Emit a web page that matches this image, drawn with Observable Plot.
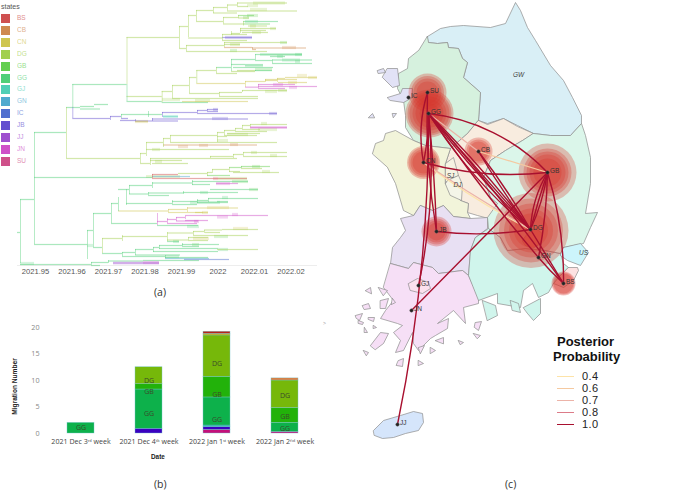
<!DOCTYPE html>
<html>
<head>
<meta charset="utf-8">
<script src="https://cdn.jsdelivr.net/npm/d3@7"></script>
<script src="https://cdn.jsdelivr.net/npm/@observablehq/plot@0.6"></script>
<style>
html,body{margin:0;padding:0;background:#fff;}
#page{position:relative;width:685px;height:490px;overflow:hidden;font-family:"Liberation Sans",sans-serif;}
#page svg{position:absolute;background:transparent;}
.t{position:absolute;white-space:nowrap;}
</style>
</head>
<body>
<div id="page"></div>
<script>
// ---------- panel (a): time tree ----------
const stateNames = ["BS","CB","CN","DG","GB","GG","GJ","GN","IC","JB","JJ","JN","SU"];
const stateColors = ["#cf5050","#cf8a50","#cfc650","#a2cf50","#63cf50","#50cf78","#50cfb6","#50aacf","#5070cf","#6350cf","#9f50cf","#cf50c8","#cf508a"];
const treeTicks = [2021.95,2021.96,2021.97,2021.98,2021.99,2022,2022.01,2022.02];
const treeOriginYear = 2021.9404;   // branch times below are days after this
// horizontal branches: state, start day, end day, row
const treeBranches = [
["GG",2,3.4,199],["GG",1.7,2,232],["GG",3.4,6.6,132],["GG",6.6,8,107],["GG",8,9.4,106],["GG",9.4,10.8,104],["GG",8,10,108.5],
["GG",7.23,12.65,84],["DG",12.65,17.9,37],["DG",17.9,18.8,26],["DG",18.8,19.6,15],["DG",19.6,21.3,10],["DG",21.3,22.7,7],["DG",22.7,23.7,4.5],["DG",23.7,28.7,2.5],["DG",23.7,24.8,6],["DG",22.7,29.7,10.5],["DG",21.3,23.7,12.5],
["DG",19.6,22.3,21],["DG",22.3,23.8,17],["GB",23.8,25.4,15],["DG",23.8,24.9,17.5],["DG",22.3,24.3,23.5],["GG",24.3,27.8,21],["GB",24.3,27,23.5],["DG",24.8,26.7,25.5],
["DG",18.8,22.2,37.5],["DG",22.2,23.1,34],["DG",23.1,24,33],["DG",24,27.6,28],["DG",24,26.6,30],["DG",24.2,26.8,32],["DG",23.1,24.7,34],["JB",22.2,25.2,37],["DG",22.2,24.7,40],
["DG",17.9,18.6,48],["DG",18.6,22.4,45],["DG",22.4,24,44],["DG",22.4,28.7,42],["CB",22.4,25.2,47],["CB",25.2,30.6,47.5],["CB",25.2,25.6,49],["DG",18.6,26.7,51],
["GG",12.65,16.17,101],["DG",12.65,16.17,96],["GG",16.17,20.8,102],["CN",18.2,24.8,101],["DG",16.17,17.2,91],["DG",17.2,18.9,85],["DG",18.9,19.63,77],
["DG",19.63,21.6,70],["GG",21.6,23.1,67],["GG",23.1,25.5,59],["GG",25.5,27,54],["GG",27,30.2,54],["GG",27,28.5,56],["GG",25.5,27.2,60],["GG",27.2,31.2,59.5],["GG",27.2,31.2,63],["GG",23.1,24.5,64],["GG",24.5,26.3,64.5],["GG",23.3,27.3,67],["DG",23.1,25.5,71],["GG",25.5,27.2,70],["DG",21.6,23.7,73],["DG",23.7,25.5,70],
["CN",19.63,24.5,83],["CN",24.5,26.5,81],["CN",26.5,27.7,80],["CN",27.7,28.5,78],["CN",28.5,31.7,77],["CN",26.5,29.7,79],["CN",27.8,30.7,82],
["JN",24.5,25.8,86.7],["JN",25.8,26.2,84],["JN",26.2,29.5,84],["JN",25.8,31.7,86],["JN",25.8,28.5,88],
["DG",18.9,21.9,93],["DG",21.9,24.2,92],["DG",24.2,28.7,90],["DG",21.9,25.8,96],["DG",17.2,25.8,98],
["JB",7.23,11,118],["JB",11,12.1,116],["GG",12.1,14.8,114],["JB",12.1,12.8,118],["GG",14.8,16.2,114],["JB",16.2,19.7,112],["JB",19.7,20.7,110],["JB",20.7,21.8,109],["JB",20.7,21.8,111],["JB",19.7,27.7,113],["GJ",16.3,17.8,116],
["JB",12,13.5,120],["JB",15.2,24.8,118.5],["JB",13.5,17.8,120.5],["CN",13.5,14.8,121],
["DG",6.6,14,158],["DG",14,14.6,153],["DG",14.6,16.3,142],["DG",16.3,17,138],["DG",17,21.7,135],["DG",21.7,22.4,132],["DG",22.4,23.5,130],["DG",23.5,24.2,128],["DG",24.2,25,125],["DG",25,28.7,124],["JN",25,28.7,127],["DG",24.2,26,129],["DG",23.5,26.7,131],["DG",22.7,26,133],["DG",22.4,25.7,135],["DG",21.7,22.7,136],["DG",17,19.4,142],["DG",19.4,21.7,142],["DG",21.7,27.7,142],
["CB",16.3,25.7,144.5],["DG",14.6,22.9,149],["DG",14,15,163],["DG",15,21,158],["DG",15,18.2,160],["DG",15.2,18.8,163],["DG",21,23.3,156],["DG",21,23.7,158],["DG",23.3,24.3,154],["DG",24.3,28.7,152],["DG",24.3,28.7,156],
["GG",3.4,15.2,177],["BS",15.2,17.8,174],["GN",15.2,19,176],["BS",15.2,24.7,178],["DG",17.8,20.7,173],["DG",20.7,21.2,172],["DG",21.2,22.9,169],["GB",22.9,24.1,167],["GB",24.1,27,166],["DG",24.1,26.2,168],["DG",22.9,24,171],["DG",23.3,27.9,172],["GB",20.7,23,175],
["GG",8.7,9.3,230],["GG",9.3,11.1,213],["GG",11.1,11.8,203],["GG",11.8,12.9,189],["GG",12.9,15.2,185],["GG",15.2,19.2,182.5],["GG",19.2,20.3,181],["GG",20.3,24.8,181],["GG",19.2,21,184],["JN",21.6,23.8,183],["GG",21,25.8,189],
["GG",12.9,14.8,193.5],["GG",14.8,18.3,192.5],["GG",18.3,23.8,192],["GG",14.8,16.9,195],
["GG",12.6,17.2,203],["GG",17.2,19.7,201],["GG",19.7,20.8,200],["GG",20.8,22,198],["GG",22,25.8,198],["GG",21.7,22.8,201],["GG",19.7,22.8,202],["GG",17.2,19.7,204],
["CN",11.8,16.8,210.5],["CN",16.8,18.7,209],["CN",18.7,23.8,207.5],["CN",19.5,20.3,212],["CN",16.8,20.8,212],
["GG",11.1,15.7,223],["JN",15.7,16.7,221],["JN",16.7,17.6,219],["JN",17.6,18.5,217],["JN",18.5,26.8,215],["JN",18.5,20.8,220],["JN",17.6,19.8,220.5],["JN",16.7,19.7,223],["GG",15.7,19.8,225],
["GG",3.4,8.7,244],["GG",9.3,10.2,247],["DG",10.2,12.2,238],["DG",12.2,16.7,236],["DG",16.7,19.3,232.5],["DG",19.3,20.4,231],["DG",20.4,22.2,229.5],["DG",22.2,25.8,229],["DG",20.5,22,232],["DG",19.3,24.8,235],["DG",16.7,18.8,239.5],["DG",18.8,20.8,237],["DG",18.8,20.8,240],["GG",16.7,17.9,241],
["GG",10.2,12.2,253],["GG",12.2,13.5,252],["GG",13.5,15.3,249],["GG",15.3,15.9,247],["GG",15.9,18.2,245],["GG",18.2,21.9,244],["GG",18.2,19.9,246],["GG",15.9,21.8,248],["DG",21.7,25.8,249],["GG",15.3,21.8,251],["GG",13.5,18,254.5],["GG",12.2,16.5,256],["GG",16.5,20.8,257],["GN",16.5,20.9,258],
["GG",2,9.1,264],["GG",9.1,10.8,262],["GG",10.8,14.3,260.5],["GG",14.3,19.9,260],["IC",18.4,22.9,259],["JJ",11.3,15.9,262.5],["GG",9.1,10,265]
];
// vertical connectors: state, day, row from, row to
const treeConnectors = [
["GG",2,199,263],["GG",3.4,132,244],["DG",6.6,107,158],["GG",7.23,84,107],["JB",7.23,107,118],["GG",12.65,84,101],["DG",12.65,37,84],["DG",17.9,26,48],["DG",18.8,15,37],["DG",19.6,10,21],["DG",21.3,7,13],["DG",22.7,4.5,10.5],["DG",23.7,2.5,6],["DG",22.3,17,23.5],["DG",23.8,15,18],["DG",24.3,21,25.5],["DG",22.2,34,40],["DG",23.1,31,35],["DG",24,28,33],["DG",18.6,45,51],["DG",22.4,42,47],["CB",25.2,47,49],
["DG",16.17,91,102],["DG",17.2,85,98],["DG",18.9,77,93],["DG",19.63,70,83],["DG",21.6,67,73],["GG",23.1,59,71],["GG",25.5,54,60],["GG",27.2,59.5,63],["GG",25.5,70,71],["CN",24.5,81,87],["CN",26.5,79,82],["CN",27.7,78,82],["JN",25.8,84,88],["DG",21.9,92,96],["DG",24.2,90,92],
["JB",11,116,120],["GG",12.1,114,118],["GG",14.8,111,117],["JB",16.2,112,117],["JB",19.7,110,113],["JB",20.7,109,111],["JB",13.5,119,121],["JB",15.2,118,121],
["DG",14,153,163],["DG",14.6,142,156],["DG",16.3,138,147],["DG",17,135,142],["DG",21.7,132,142],["DG",22.4,130,135],["DG",23.5,128,131],["DG",24.2,125,129],["DG",25,124,127],["DG",15,158,165],["DG",21,156,158],["DG",23.3,154,158],["DG",24.3,152,156],
["BS",15.2,174,178],["DG",20.7,172,176],["DG",21.2,169,173],["DG",22.9,167,172],["GB",24.1,166,168],
["GG",8.7,230,259],["GG",9.3,213,247],["GG",11.1,203,223],["GG",11.8,197,211],["GG",12.6,189,205],["GG",12.9,185,194],["GG",15.2,182,188],["GG",19.2,180,185],["GG",14.8,192,195],["GG",18.3,191,194],["GG",17.2,200,204],["GG",19.7,199,203],["GG",20.8,198,202],["CN",16.8,209,212],["CN",18.7,207,212],
["JN",15.7,213,225],["JN",16.7,218,223],["JN",17.6,217,221],["JN",18.5,216,219],
["DG",10.2,238,253],["DG",12.2,235,241],["DG",16.7,232,241],["DG",19.3,231,235],["DG",20.4,230,233],["DG",18.8,237,240],["GG",12.2,252,256],["GG",13.5,249,255],["GG",15.3,247,252],["GG",15.9,245,249],["GG",18.2,243,246],["GG",16.5,255,258],["GG",9.1,262,265],["GG",10.8,260,263]
];
// pale uncertainty bands: state, start day, end day, row
const treeBands = [
["GG",2,3.4,263],["DG",25.3,28.5,2.5],["DG",25,26.7,9],["DG",24.7,25.8,5],["GB",24.7,25.8,15],["GB",24.3,24.9,17],["GG",24.5,25.8,21],["DG",25,25.6,25.5],["DG",27,27.6,28],["DG",25.2,26.1,32],["JB",22.5,25.2,37],["DG",23,24,44],["GB",28,28.7,42],["CB",28.2,29.6,47],["GB",23,23.7,50],
["GG",26,30.2,54],["GG",29.5,30.2,54],["GG",27.7,28.3,56],["GG",28.2,30,59.5],["GG",29.5,30,61],["GG",24.5,26.3,65],["GB",25.5,27.2,69],["CN",29.7,30.7,75],["CN",30.8,31.7,77],["CN",28.8,29.7,82],["JN",28.9,29.7,87],["JN",27.3,28.3,84],["DG",26.5,27.7,91],["DG",27.8,28.7,90],
["DG",16.2,18,99],["DG",19.5,21,100],["JB",21.3,21.8,109],["GJ",16.3,17.8,116],["JB",26.9,27.7,113],["JB",21.2,22.8,118],["CN",13.5,14.8,121],
["DG",26.1,26.7,123],["DG",25.8,27.7,129],["JN",25,28.7,127],["DG",22.7,24.8,134],["DG",21.7,22.8,140],["CB",17.8,18.8,146],["CB",19.9,20.8,145],["CB",23,23.8,144],["DG",15.2,16,149],["DG",15.5,16.2,161],["DG",25.1,25.7,152],["DG",27,27.7,155],
["GB",25.2,26,166],["DG",26.2,27,171],["DG",14.6,18,176],["BS",21.3,21.8,178],["DG",21.8,24.7,178],
["GB",23.2,24.8,181],["JN",21.6,23,183],["GB",24.9,25.8,189],["GG",20,20.8,192],["GG",22.2,22.8,197],["GG",19,22,202],["CN",20.7,22.9,207],["CN",20.2,20.8,212],["JN",21.7,22.8,216.5],["JN",23.2,23.8,214],["JN",19.4,19.9,221],["GG",18.7,19.9,226],
["CN",23.3,24.8,228],["GB",21.4,22.8,236],["CN",19.3,20.9,238],["GG",17.3,17.9,241],["GB",19.2,19.9,244],["GG",21.8,22.8,249],["GG",16.5,17.9,256],["JJ",11.3,15.9,262.5],["JN",14.3,15.9,262],["GG",8.7,9.3,245]
];

// ---------- panel (b): migration bars ----------
const weeks = ["2021 Dec 3ʳᵈ week","2021 Dec 4ᵗʰ week","2022 Jan 1ˢᵗ week","2022 Jan 2ⁿᵈ week"];
const barWeek = [0,1,1,1,1,2,2,2,2,2,2,2,2,3,3,3,3,3];
const barState = ["GG","JB","GG","GB","DG","JN","JB","GJ","GG","GB","DG","CN","BS","JN","GG","GB","DG","CB"];
const barValue = [2,0.9,7.4,1,3.2,0.7,0.5,0.3,5.3,3.9,7.8,0.3,0.4,0.3,1.7,2.8,5.2,0.4];
const barFills = {GG:"#0db14b",JB:"#3a00c0",GB:"#22b20a",DG:"#76b80a",CN:"#cfa800",JN:"#c4107a",GJ:"#1aa9a0",BS:"#b8241a",CB:"#e07a3a"};
const barLabelled = ["GG","GB","DG"];

// ---------- panel (c): map ----------
const gwRegion = [[427,36],[440,28],[450,26],[463,25],[490,27],[505,23],[515,2],[520,10],[527,27],[535,40],[550,65],[563,80],[572,97],[581,115],[581,123],[570,135],[550,135],[533,133],[517,125],[503,118],[487,123],[478,120],[480,92],[463,77],[467,62],[462,58],[458,48],[448,47],[447,42],[437,43],[428,42]];
const ggRegion = [[427,36],[428,42],[437,43],[447,42],[448,47],[458,48],[462,58],[467,62],[463,77],[480,92],[478,120],[467,133],[450,148],[425,145],[413,140],[405,127],[405,115],[403,100],[397,88],[398,73],[407,68],[408,58],[418,50]];
const cbRegion = [[478,120],[487,124],[503,118],[517,126],[533,133],[522,140],[505,150],[490,160],[483,177],[490,197],[497,203],[488,218],[477,215],[467,212],[468,203],[460,200],[445,183],[445,163],[450,148],[467,133]];
const cnRegion = [[372,153],[375,143],[383,140],[385,133],[395,130],[413,140],[425,145],[450,148],[445,163],[445,183],[460,200],[468,203],[467,212],[470,218],[453,216],[443,205],[432,210],[420,205],[413,215],[403,210],[395,183],[387,167]];
const jbRegion = [[420,205],[432,210],[443,205],[453,216],[470,218],[487,217],[487,228],[475,237],[470,250],[468,275],[462,270],[438,273],[432,267],[413,262],[408,268],[390,263],[392,247],[400,237],[405,230],[400,218],[413,215]];
const jnRegion = [[390,263],[408,268],[413,262],[432,267],[438,273],[462,270],[468,275],[478,297],[478,303],[463,307],[465,323],[453,310],[437,323],[448,318],[447,328],[435,335],[430,338],[418,350],[413,343],[412,332],[403,350],[395,352],[400,340],[393,332],[402,325],[397,323],[380,318],[385,310],[393,300],[383,287]];
const gbRegion = [[533,133],[550,135],[570,135],[581,123],[585,135],[590,157],[590,183],[585,213],[597,212],[590,227],[583,243],[563,247],[560,253],[545,250],[525,248],[507,250],[500,237],[488,228],[487,217],[497,203],[490,197],[483,177],[490,160],[505,150],[522,140]];
const gnRegion = [[475,237],[488,228],[500,237],[507,250],[525,248],[545,250],[560,253],[563,263],[568,267],[560,275],[553,283],[548,292],[538,297],[532,283],[523,290],[520,307],[497,303],[497,293],[478,300],[468,275],[470,250]];
const usRegion = [[563,247],[580,243],[588,252],[580,265],[567,260],[560,255]];
const bsRegion = [[568,267],[577,267],[578,270],[573,280],[563,287],[553,283],[560,275]];
const sjRegion = [[445,163],[453,157],[458,175],[447,180],[445,183]];
const djRegion = [[445,183],[447,180],[458,175],[462,184],[461,200],[450,195]];
const dgRegion = [[522,240],[527,233],[535,228],[542,233],[540,243],[532,248],[525,245]];
const gjRegion = [[408,283],[417,278],[428,282],[430,288],[422,293],[410,290]];
const jjRegion = [[373,430],[383,420],[400,415],[413,411],[422,413],[423,422],[418,430],[405,433],[393,437],[382,438],[374,435]];
const icIslands = [[[387,68],[397,68],[399,85],[392,87],[382,77]],[[387,97],[400,93],[402,88],[412,88],[412,97],[403,102],[390,100]],[[377,70],[383,68],[385,72],[378,73]],[[368,117],[372,113],[374,117]],[[392,113],[396,113],[393,117]]];
const gnIslands = [[[523,307],[540,298],[540,313],[533,320],[527,313]],[[482,300],[495,305],[497,315],[487,320]],[[510,300],[518,303],[520,312],[512,310]]];
const jnIslands = [[[362,305],[368,303],[370,308],[364,309]],[[368,317],[374,317],[373,321],[368,319]],[[355,315],[362,313],[359,320],[356,318]],[[358,320],[363,322],[362,324],[358,323]],[[380,300],[388,298],[385,308],[380,308]],[[370,345],[380,332],[388,333],[383,343],[375,349]],[[398,360],[403,358],[402,366],[396,365]],[[435,340],[443,337],[443,343]],[[458,340],[463,342],[460,344]],[[473,333],[480,335],[477,338]],[[475,322],[481,321],[478,330],[474,327]],[[418,347],[424,345],[420,353]],[[430,347],[435,350],[430,353]],[[363,350],[368,352],[366,355]],[[418,360],[423,363],[418,365]],[[364,327],[367,332],[364,332]],[[373,325],[376,327],[373,328]],[[365,290],[370,287],[371,293]],[[378,287],[387,290],[383,295]],[[392,298],[395,302],[391,304]]];
const mapFills = {gw:"#d9eff6",gg:"#d6f1de",cb:"#f8ecdf",cn:"#f2f4da",jb:"#e8e0f3",jn:"#f6dff6",gb:"#dbf6ea",gn:"#d0f5ec",us:"#ccf5fb",bs:"#fde2e2",sj:"#f6f3e2",dj:"#f4f5e8",dg:"#e9b9ae",gj:"#fbe0ee",jj:"#d5e5fb",ic:"#e2e2f6"};
const places = {SU:[427,92],GG:[428,113],IC:[408,97],CB:[478,151],CN:[423,162],GB:[547,172],DG:[530,229],GN:[538,257],BS:[563,283],JB:[436,231],GJ:[418,285],JN:[411,310],JJ:[397,424]};
const placeOnly = {GW:[518,74],SJ:[450,175],DJ:[457,184],US:[583,252]};
// halo rings: place, radius
const halos = [["SU",19],["SU",16.5],["SU",14],["SU",11],["GG",24],["GG",22],["GG",20],["GG",17],["GG",14],["GG",10],["CB",14],["CB",12],["CB",10],["CN",16.5],["CN",15],["CN",13],["CN",11],["JB",15],["JB",13],["JB",11],["JB",9],["GB",29],["GB",24],["GB",21],["GB",18],["GB",14],["DG",37.5],["DG",32],["DG",27],["DG",22],["DG",17],["BS",12],["BS",11],["BS",10]];
const haloCentre = {GG:[429,113],DG:[530.5,230]};
const probLevels = [0.4,0.6,0.7,0.8,1.0];
const probColors = ["#fde3a8","#f5c9a0","#ecb3a8","#dc7b88","#a8102f"];
// flows: from, to, bend (degrees), posterior probability
const flows = [
["CN","DG",-5,0.4],["CB","GB",0,0.6],["GG","CB",0,0.7],["CN","DG",-2,0.7],
["GG","DG",0,1],["GG","DG",4,1],["GG","DG",-4,1],["GG","DG",-9,1],["GG","GN",-3,1],["GG","BS",3,1],["GG","GB",20,1],["GG","CN",6,1],["GG","JB",2,1],["GG","GJ",9,1],["GG","JJ",6,1],
["SU","CN",-14,1],["SU","JB",-6,1],
["CN","GB",-11,1],["CB","DG",-3,1],["CB","DG",4,1],["GB","DG",8,1],["GB","DG",-2,1],["GB","DG",-14,1],["GB","BS",9,1],["GB","JN",0,1],["GB","GN",5,1],
["JB","DG",-8,1],["DG","BS",0,1],["GN","BS",-4,1]
];

// ---------- helpers ----------
const page = document.getElementById("page");
const treeYear = d => treeOriginYear + d / 365;
const stateScale = {domain: stateNames, range: stateColors};
function place(svg, left, top) { svg.style.left = left + "px"; svg.style.top = top + "px"; page.appendChild(svg); }
function text(str, left, top, style) {
  const e = document.createElement("div"); e.className = "t"; e.textContent = str;
  e.style.cssText = `left:${left}px;top:${top}px;${style||""}`; page.appendChild(e); return e;
}

// ---------- draw (a) ----------
place(Plot.plot({
  width: 330, height: 300, marginTop: 0, marginLeft: 0, marginRight: 0, marginBottom: 35,
  style: {background: "transparent", fontFamily: "Liberation Sans"},
  x: {domain: [treeYear(0), treeYear(33)], ticks: treeTicks, label: null, tickSize: 0, tickPadding: 3,
      tickFormat: d => String(+d.toFixed(2))},
  y: {domain: [265, 0], axis: null},
  color: {...stateScale},
  marks: [
    Plot.ruleY([265], {x1: treeYear(1.7), x2: treeYear(31.7), stroke: "#e8e8e8", strokeWidth: 0.8}),
    Plot.ruleY(treeBands, {x1: d => treeYear(d[1]), x2: d => treeYear(d[2]), y: d => d[3], stroke: d => d[0], strokeWidth: 3.2, strokeOpacity: 0.24}),
    Plot.ruleY(treeBranches, {x1: d => treeYear(d[1]), x2: d => treeYear(d[2]), y: d => d[3], stroke: d => d[0], strokeWidth: 2.2, strokeOpacity: 0.1}),
    Plot.ruleY(treeBranches, {x1: d => treeYear(d[1]), x2: d => treeYear(d[2]), y: d => d[3], stroke: d => d[0], strokeWidth: 0.9, strokeOpacity: 0.47}),
    Plot.ruleX(treeConnectors, {x: d => treeYear(d[1]), y1: d => d[2], y2: d => d[3], stroke: d => d[0], strokeWidth: 0.9, strokeOpacity: 0.47})
  ]
}), 0, 0);
page.querySelector("svg").querySelectorAll("[aria-label='x-axis tick label'] text").forEach(t => { t.setAttribute("font-size", 7.6); t.setAttribute("fill", "#555"); });

text("states", 1, 3, "font-size:7px;color:#555;");
stateNames.forEach((s, i) => {
  const top = 14 + i * 11.9;
  text("", 1, top, `width:7px;height:7px;background:${stateColors[i]};border:0.5px solid ${stateColors[i]}88;`);
  text(s, 17, top, `font-size:6.5px;line-height:8px;color:${stateColors[i]};opacity:.65;`);
});
text("(a)", 154, 285, "font-size:10.5px;font-family:'Open Sans';color:#333;");

// ---------- draw (b) ----------
const bars = barValue.map((value, i) => ({week: weeks[barWeek[i]], state: barState[i], value}));
place(Plot.plot({
  width: 330, height: 150, marginTop: 7, marginBottom: 37, marginLeft: 42, marginRight: 11,
  style: {background: "transparent", fontFamily: "Open Sans"},
  x: {domain: weeks, range: [45.25, 319.25], paddingInner: 0.6, paddingOuter: 0.3, label: null, tickSize: 0, tickPadding: 5},
  y: {domain: [0, 20], ticks: [0, 5, 10, 15, 20], label: null, tickSize: 0, tickPadding: 3},
  marks: [
    Plot.barY(bars, {x: "week", y: "value", fill: d => barFills[d.state], stroke: "#74c4cc", strokeWidth: 0.5, strokeOpacity: 0.8}),
    Plot.text(bars.filter(d => barLabelled.includes(d.state)), Plot.stackY({x: "week", y: "value", text: "state", fill: "#3a4a2a", fontSize: 7})),
  ]
}), 0, 320);
const bSvg = page.querySelectorAll("svg")[1];
bSvg.querySelectorAll("[aria-label='y-axis tick label'] text").forEach(t => { t.setAttribute("font-size", 7.2); t.setAttribute("fill", "#888"); });
bSvg.querySelectorAll("[aria-label='x-axis tick label'] text").forEach(t => { t.setAttribute("font-size", 7.1); t.setAttribute("fill", "#444"); });
text("Date", 151, 453, "font-size:6.4px;font-weight:bold;color:#222;");
text("Migration Number", -15, 383, "font-size:6.6px;font-weight:bold;color:#222;transform:rotate(-90deg);width:58px;text-align:center;");
text("(b)", 154, 477, "font-size:10.5px;font-family:'Open Sans';color:#333;");
text(">", 323, 320, "font-size:5px;color:#999;");

// ---------- draw (c) ----------
const ringMark = (pts, fill) => Plot.line(pts, {x: d => d[0], y: d => d[1], curve: "linear-closed", fill, stroke: "#8c8c8c", strokeWidth: 0.7});
const flowColor = p => probColors[probLevels.indexOf(p)];
const haloRows = halos.map(([p, r]) => { const c = haloCentre[p] || places[p]; return {p, r, x: c[0], y: c[1]}; });
const placeRows = Object.entries(places).map(([name, [x, y]]) => ({name, x, y}));
const otherRows = Object.entries(placeOnly).map(([name, [x, y]]) => ({name, x, y}));
place(Plot.plot({
  width: 340, height: 490, margin: 0,
  style: {background: "transparent", fontFamily: "Liberation Sans"},
  x: {domain: [345, 685], axis: null},
  y: {domain: [490, 0], axis: null},
  r: {type: "identity"},
  marks: [
    ringMark(gwRegion, mapFills.gw), ringMark(ggRegion, mapFills.gg), ringMark(cbRegion, mapFills.cb), ringMark(cnRegion, mapFills.cn),
    ringMark(jbRegion, mapFills.jb), ringMark(jnRegion, mapFills.jn), ringMark(gnRegion, mapFills.gn), ringMark(gbRegion, mapFills.gb),
    ringMark(usRegion, mapFills.us), ringMark(bsRegion, mapFills.bs), ringMark(sjRegion, mapFills.sj), ringMark(djRegion, mapFills.dj),
    ringMark(dgRegion, mapFills.dg), ringMark(gjRegion, mapFills.gj), ringMark(jjRegion, mapFills.jj),
    icIslands.map(r => ringMark(r, mapFills.ic)), gnIslands.map(r => ringMark(r, mapFills.gn)), jnIslands.map(r => ringMark(r, mapFills.jn)),
    Plot.dot(haloRows, {x: "x", y: "y", r: "r", fill: "#d8352c", fillOpacity: 0.3}),
    flows.map(([a, b, bend, p]) => Plot.arrow([[a, b]], {
      x1: () => places[a][0], y1: () => places[a][1], x2: () => places[b][0], y2: () => places[b][1],
      bend, headLength: 0, stroke: flowColor(p), strokeWidth: p === 1 ? 1.4 : 1.2
    })),
    Plot.dot(placeRows, {x: "x", y: "y", r: 1.7, fill: "#222", stroke: "#555", strokeWidth: 0.5}),
    Plot.text(placeRows, {x: "x", y: "y", text: "name", dx: 2.5, dy: -2, textAnchor: "start", fontSize: 6.5, fill: "#333"}),
    Plot.text(otherRows, {x: "x", y: "y", text: "name", fontSize: 6.5, fontStyle: "italic", fill: "#444"})
  ]
}), 345, 0);

text("Posterior", 557, 335, "font-size:13px;font-weight:bold;color:#111;line-height:14px;");
text("Probability", 553, 349.5, "font-size:13px;font-weight:bold;color:#111;line-height:14px;");
probLevels.forEach((p, i) => {
  const top = [376, 388, 400, 412, 424][i];
  text("", 557, top, `width:17px;height:0;border-top:1.1px solid ${probColors[i]};`);
  text(p.toFixed(1), 582, top - 5.5, "font-size:11px;line-height:11px;letter-spacing:.4px;color:#222;");
});
text("(c)", 505, 477, "font-size:10.5px;font-family:'Open Sans';color:#333;");
</script>
</body>
</html>
